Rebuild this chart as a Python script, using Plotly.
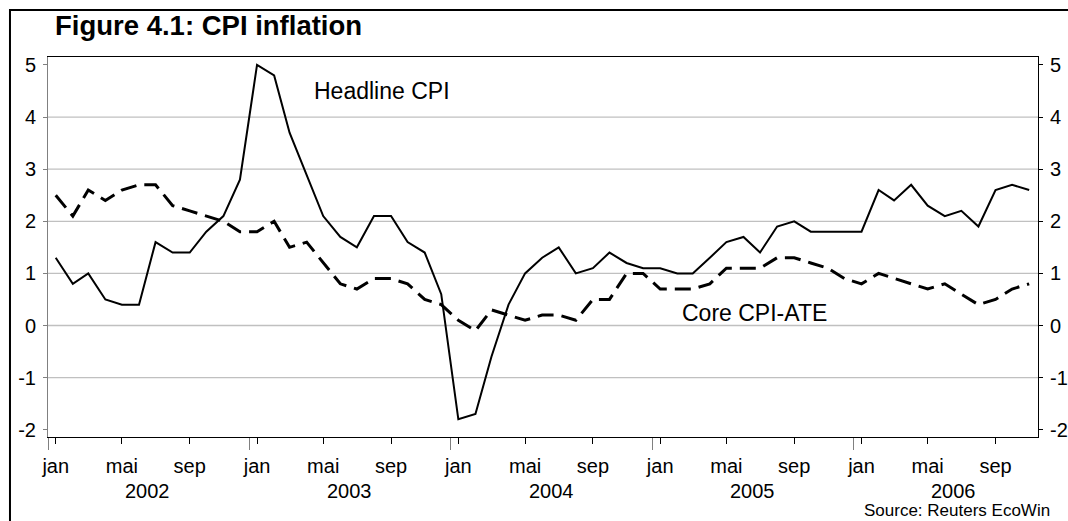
import pandas as pd
import plotly.graph_objects as go

# ── data (monthly, % y/y) ─────────────────────────
months = pd.date_range('2002-01-01', periods=59, freq='MS') + pd.Timedelta(days=14)

headline = [1.3, 0.8, 1.0, 0.5, 0.4, 0.4, 1.6, 1.4, 1.4, 1.8, 2.1, 2.8,
            5.0, 4.8, 3.7, 2.9, 2.1, 1.7, 1.5, 2.1, 2.1, 1.6, 1.4, 0.6,
            -1.8, -1.7, -0.6, 0.4, 1.0, 1.3, 1.5, 1.0, 1.1, 1.4, 1.2, 1.1,
            1.1, 1.0, 1.0, 1.3, 1.6, 1.7, 1.4, 1.9, 2.0, 1.8, 1.8, 1.8,
            1.8, 2.6, 2.4, 2.7, 2.3, 2.1, 2.2, 1.9, 2.6, 2.7, 2.6]

core_ate = [2.5, 2.1, 2.6, 2.4, 2.6, 2.7, 2.7, 2.3, 2.2, 2.1, 2.0, 1.8,
            1.8, 2.0, 1.5, 1.6, 1.2, 0.8, 0.7, 0.9, 0.9, 0.8, 0.5, 0.4,
            0.1, -0.1, 0.3, 0.2, 0.1, 0.2, 0.2, 0.1, 0.5, 0.5, 1.0, 1.0,
            0.7, 0.7, 0.7, 0.8, 1.1, 1.1, 1.1, 1.3, 1.3, 1.2, 1.1, 0.9,
            0.8, 1.0, 0.9, 0.8, 0.7, 0.8, 0.6, 0.4, 0.5, 0.7, 0.8]

years = [2002, 2003, 2004, 2005, 2006]
month_ticks = [(1, 'jan'), (5, 'mai'), (9, 'sep')]
y_ticks = [-2, -1, 0, 1, 2, 3, 4, 5]
y_text = ['-2', '-1', '0', '1', '2', '3', '4', '5']   # plain hyphen, as in the original
grid_vals = [-1, 0, 1, 2, 3, 4]

FONT = 'Liberation Sans, Arial, sans-serif'

tickvals = [pd.Timestamp(y, m, 15) for y in years for m, _ in month_ticks]
ticktext = [t for _ in years for _, t in month_ticks]

fig = go.Figure()
fig.add_trace(go.Scatter(x=months, y=headline, name='Headline CPI', mode='lines',
                         line=dict(color='black', width=2)))
fig.add_trace(go.Scatter(x=months, y=core_ate, name='Core CPI-ATE', mode='lines',
                         line=dict(color='black', width=3, dash='16px,8px')))
# dummy trace so the right axis is drawn
fig.add_trace(go.Scatter(x=[months[0]], y=[0], yaxis='y2', mode='lines',
                         showlegend=False, hoverinfo='skip', line=dict(width=0)))

for v in grid_vals:
    fig.add_hline(y=v, line=dict(color='#c0c0c0', width=1.3), layer='below')

yr = [-2.14, 5.153]
fig.update_layout(
    width=1068, height=521,
    margin=dict(l=48, r=30, t=57, b=84, autoexpand=False),
    paper_bgcolor='white', plot_bgcolor='white',
    showlegend=False,
    font=dict(family=FONT, size=20, color='black'),
    xaxis=dict(type='date', range=['2002-01-01', '2006-12-01'], automargin=False,
               tickmode='array', tickvals=tickvals, ticktext=ticktext,
               ticks='outside', ticklen=6, tickcolor='black', tickwidth=1,
               ticklabelstandoff=5,
               minor=dict(ticks='outside', ticklen=12, tickcolor='#808080', tickwidth=1,
                          tickmode='array',
                          tickvals=[pd.Timestamp(y, 1, 1) for y in years]),
               showline=True, linecolor='black', linewidth=1, mirror=True,
               showgrid=False, zeroline=False),
    yaxis=dict(range=yr, tickvals=y_ticks, ticktext=y_text, automargin=False,
               ticks='outside', ticklen=4,
               tickcolor='#808080', showline=True, linecolor='#808080', linewidth=1,
               showgrid=False, zeroline=False, ticklabelstandoff=3),
    yaxis2=dict(range=yr, tickvals=y_ticks, ticktext=y_text, automargin=False,
                overlaying='y', side='right',
                ticks='outside', ticklen=4, tickcolor='black',
                showline=True, linecolor='black', linewidth=1,
                showgrid=False, zeroline=False, ticklabelstandoff=3),
)

# year labels under the month labels
for y in years:
    fig.add_annotation(x=pd.Timestamp(y, 7, 1), xref='x', y=-0.1421, yref='paper',
                       text=str(y), showarrow=False, yanchor='middle',
                       font=dict(size=20))

# series labels
fig.add_annotation(x=pd.Timestamp(2003, 4, 24), y=4.5, text='Headline CPI',
                   showarrow=False, xanchor='left', yanchor='middle', font=dict(size=23))
fig.add_annotation(x=pd.Timestamp(2005, 2, 20), y=0.24, text='Core CPI-ATE',
                   showarrow=False, xanchor='left', yanchor='middle', font=dict(size=23))

# title, source and outer frame
fig.add_annotation(x=0.005, y=1.0816, xref='paper', yref='paper', xanchor='left',
                   yanchor='middle', showarrow=False,
                   text='<b>Figure 4.1: CPI inflation</b>', font=dict(size=27.5))
fig.add_annotation(x=1.0141, y=-0.1935, xref='paper', yref='paper', xanchor='right',
                   yanchor='middle', showarrow=False,
                   text='Source: Reuters EcoWin', font=dict(size=17))
fig.add_shape(type='rect', xref='paper', yref='paper',
              x0=-0.0384, y0=-0.35, x1=1.06, y1=1.1237,
              line=dict(color='black', width=2), layer='above')

# drop the default 8px body margin so the figure sits at the page corner
fig.write_html('out.html', config={'displayModeBar': False},
               post_script="document.body.style.margin='0';")
